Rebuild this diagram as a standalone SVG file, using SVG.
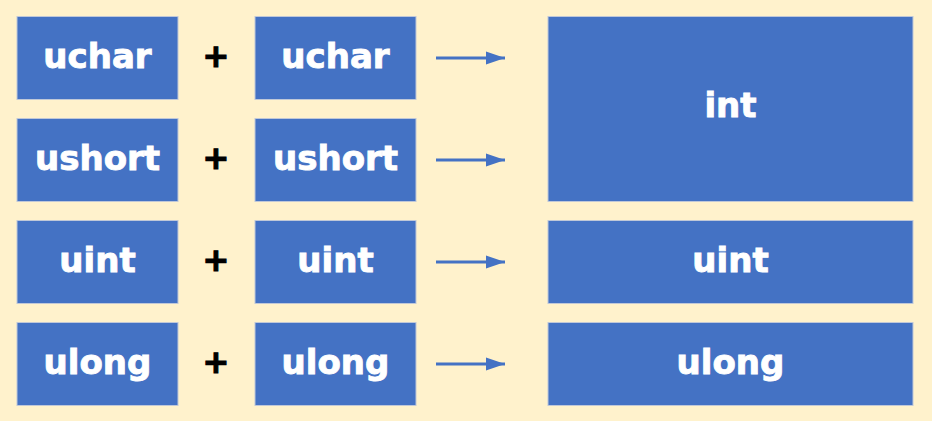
<svg xmlns="http://www.w3.org/2000/svg" width="932" height="421" viewBox="0 0 932 421">
<style>
.box{fill:#4472c4;stroke:#c0c8d8;stroke-width:1}
.t{font-family:"DejaVu Sans",sans-serif;font-weight:bold;font-size:34px;fill:#ffffff;stroke:#ffffff;stroke-width:0.9;text-anchor:middle}
.p{font-family:"DejaVu Sans",sans-serif;font-weight:bold;font-size:32px;fill:#000000;stroke:#000000;stroke-width:1.2;text-anchor:middle}
.c{stroke:#4472c4;stroke-width:3;fill:none;marker-end:url(#ah)}
</style>
<defs>
<marker id="ah" markerUnits="userSpaceOnUse" markerWidth="20" markerHeight="14" refX="19" refY="7" orient="auto">
<path d="M0,0.5 L19,7 L0,13.5 Z" fill="#4472c4"/>
</marker>
</defs>
<rect width="932" height="421" fill="#fff2cc"/>
<g id="a1"><rect class="box" x="17" y="16.5" width="161" height="83"/><text class="t" x="97.5" y="68">uchar</text></g>
<g id="b1"><rect class="box" x="255" y="16.5" width="161" height="83"/><text class="t" x="335.5" y="68">uchar</text></g>
<g id="a2"><rect class="box" x="17" y="118.5" width="161" height="83"/><text class="t" x="97.5" y="169.5">ushort</text></g>
<g id="b2"><rect class="box" x="255" y="118.5" width="161" height="83"/><text class="t" x="335.5" y="169.5">ushort</text></g>
<g id="a3"><rect class="box" x="17" y="220.5" width="161" height="83"/><text class="t" x="97.5" y="271.5">uint</text></g>
<g id="b3"><rect class="box" x="255" y="220.5" width="161" height="83"/><text class="t" x="335.5" y="271.5">uint</text></g>
<g id="a4"><rect class="box" x="17" y="322.5" width="161" height="83"/><text class="t" x="97.5" y="373.5">ulong</text></g>
<g id="b4"><rect class="box" x="255" y="322.5" width="161" height="83"/><text class="t" x="335.5" y="373.5">ulong</text></g>
<g id="r1"><rect class="box" x="548" y="16.5" width="365" height="185"/><text class="t" x="730.5" y="117">int</text></g>
<g id="r3"><rect class="box" x="548" y="220.5" width="365" height="83"/><text class="t" x="730.5" y="271.5">uint</text></g>
<g id="r4"><rect class="box" x="548" y="322.5" width="365" height="83"/><text class="t" x="730.5" y="373.5">ulong</text></g>
<g id="plus">
<text class="p" x="216" y="66.5">+</text>
<text class="p" x="216" y="168.5">+</text>
<text class="p" x="216" y="270.5">+</text>
<text class="p" x="216" y="372.5">+</text>
</g>
<g id="connectors">
<line class="c" x1="436" y1="58" x2="505" y2="58"/>
<line class="c" x1="436" y1="160" x2="505" y2="160"/>
<line class="c" x1="436" y1="262" x2="505" y2="262"/>
<line class="c" x1="436" y1="364" x2="505" y2="364"/>
</g>
</svg>
